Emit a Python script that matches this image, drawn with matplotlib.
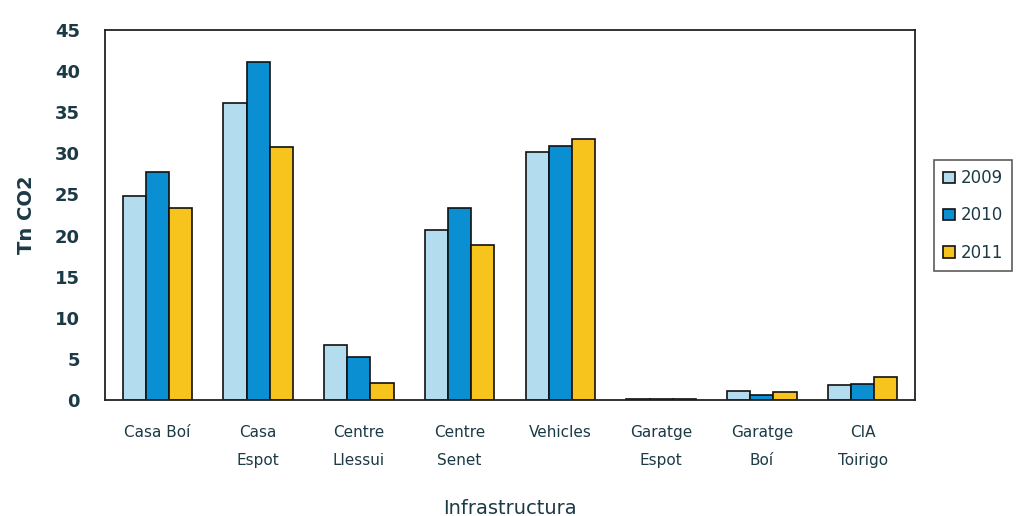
import matplotlib
matplotlib.use("Agg")
import matplotlib.pyplot as plt
import numpy as np

categories = ["Casa Boí", "Casa\nEspot", "Centre\nLlessui", "Centre\nSenet", "Vehicles",
              "Garatge\nEspot", "Garatge\nBoí", "CIA\nToirigo"]
years = ["2009", "2010", "2011"]
v2009 = [24.8, 36.1, 6.7, 20.7, 30.2, 0.1, 1.1, 1.8]
v2010 = [27.7, 41.1, 5.2, 23.4, 30.9, 0.1, 0.6, 2.0]
v2011 = [23.4, 30.8, 2.1, 18.8, 31.8, 0.1, 1.0, 2.8]
yticks = [0, 5, 10, 15, 20, 25, 30, 35, 40, 45]

colors = ["#b3ddef", "#0b8fd3", "#f6c41c"]
txt = "#1c3a46"

fig = plt.figure(figsize=(10.18, 5.16), dpi=100)
ax = fig.add_axes([105/1018, 1-400/516, 810/1018, 370/516])

x = np.arange(len(categories))
w = 0.23
series = [v2009, v2010, v2011]
handles = []
for i, (vals, c) in enumerate(zip(series, colors)):
    b = ax.bar(x + (i-1)*w, vals, width=w, color=c, edgecolor="#111111", linewidth=1.2, label=years[i])
    handles.append(b)

ax.set_xlim(-0.52, len(categories)-0.48)
ax.set_ylim(0, 45)
ax.set_yticks(yticks)
ax.set_yticklabels([str(t) for t in yticks], fontsize=13, fontweight="bold", color=txt)
ax.set_xticks(x)
ax.set_xticklabels(categories, fontsize=11, color=txt, linespacing=2.1)
ax.tick_params(axis="y", length=0, pad=18)
ax.tick_params(axis="x", length=0, pad=18)
for s in ax.spines.values():
    s.set_color("#222222")
    s.set_linewidth(1.3)

ax.set_ylabel("Tn CO2", fontsize=14, fontweight="bold", color=txt, labelpad=14)
ax.set_xlabel("Infrastructura", fontsize=14, color=txt, labelpad=22)

leg = fig.legend(handles=handles, labels=years, loc="upper left",
                 bbox_to_anchor=(934/1018, 1-160/516), frameon=True, fontsize=12,
                 handlelength=0.7, handleheight=0.7, handletextpad=0.35,
                 labelspacing=1.15, borderpad=0.55, borderaxespad=0.0, fancybox=False)
leg.get_frame().set_edgecolor("#333333")
leg.get_frame().set_linewidth(1.2)
for t in leg.get_texts():
    t.set_color(txt)

fig.savefig("out.png", dpi=100)
